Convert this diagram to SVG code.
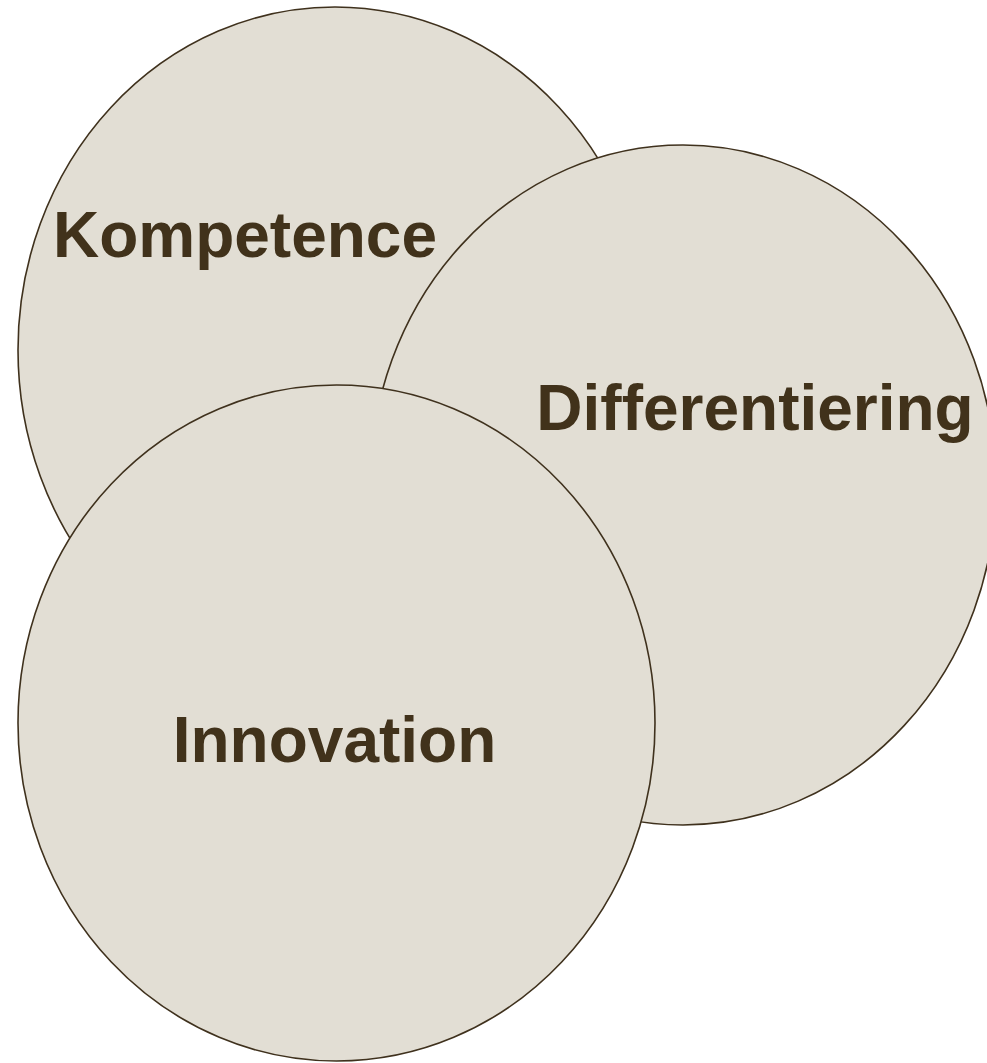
<svg xmlns="http://www.w3.org/2000/svg" width="987" height="1063" viewBox="0 0 987 1063">
<style>
.c{fill:#e2ded4;stroke:#3f311d;stroke-width:1.6}
.t{font-family:"Liberation Sans",Arial,sans-serif;font-weight:bold;font-size:64px;fill:#41321b;text-anchor:middle}
</style>
<rect width="987" height="1063" fill="#ffffff"/>
<g id="kompetence">
<ellipse class="c" cx="335" cy="350" rx="317" ry="343"/>
<text class="t" x="245" y="257">Kompetence</text>
</g>
<g id="differentiering">
<ellipse class="c" cx="683" cy="485" rx="313" ry="340"/>
<text class="t" x="755" y="430">Differentiering</text>
</g>
<g id="innovation">
<ellipse class="c" cx="336.5" cy="723" rx="318.5" ry="338"/>
<text class="t" x="334.5" y="762">Innovation</text>
</g>
<g id="connectors"/>
</svg>
